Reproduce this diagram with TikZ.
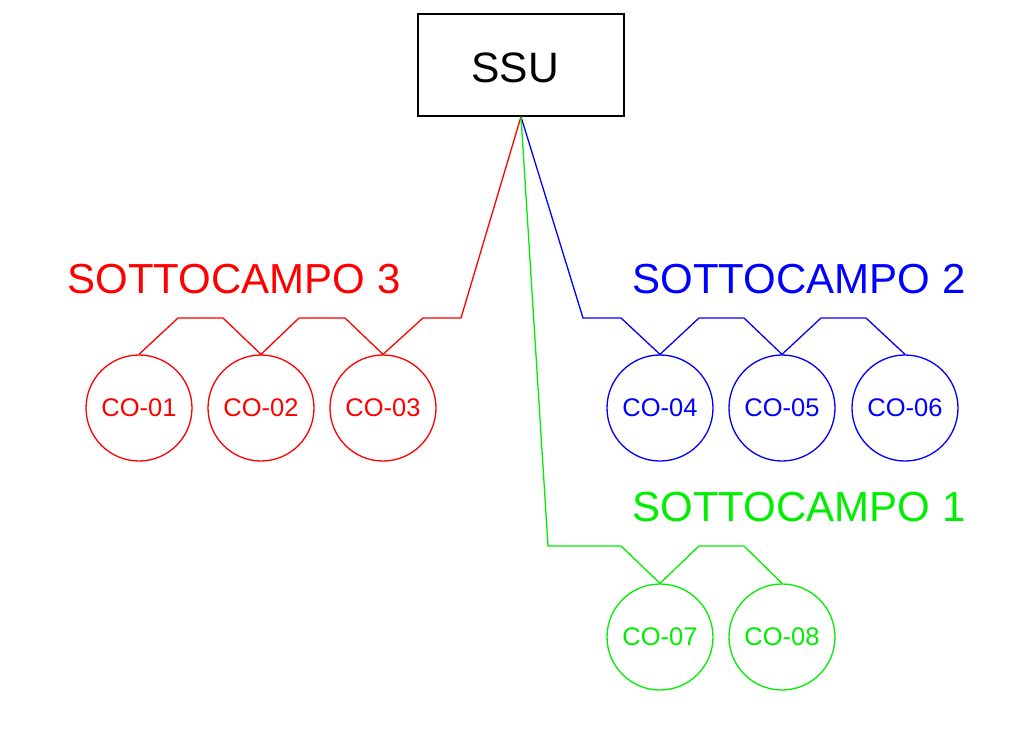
\documentclass[tikz,border=0pt]{standalone}
\usepackage{fontspec}
\setmainfont{Liberation Sans}
\definecolor{cred}{RGB}{255,0,0}
\definecolor{cblue}{RGB}{0,0,255}
\definecolor{cgreen}{RGB}{0,238,0}
\begin{document}
\begin{tikzpicture}[x=1pt,y=-1pt,
  co/.style={circle,draw,line width=1.3pt,minimum size=106pt,inner sep=0pt,font=\fontsize{25.5}{25.5}\selectfont},
  grp/.style={font=\fontsize{42}{42}\selectfont,inner sep=0pt},
  wire/.style={line width=1.3pt,line join=miter}]
\useasboundingbox (0,0) rectangle (1034,734);
\node[draw,line width=1.3pt,minimum width=206pt,minimum height=102pt,inner sep=0pt] (ssu) at (521,65) {};
\node[font=\fontsize{42.5}{42.5}\selectfont,inner sep=0pt] (ssulabel) at (515,68) {SSU};

\node[grp,text=cred] (g3) at (234,279) {SOTTOCAMPO 3};
\node[grp,text=cblue] (g2) at (799,279) {SOTTOCAMPO 2};
\node[grp,text=cgreen] (g1) at (799,507) {SOTTOCAMPO 1};

\node[co,cred] (co1) at (139,408) {CO-01};
\node[co,cred] (co2) at (261,408) {CO-02};
\node[co,cred] (co3) at (383,408) {CO-03};
\node[co,cblue] (co4) at (660,408) {CO-04};
\node[co,cblue] (co5) at (782,408) {CO-05};
\node[co,cblue] (co6) at (905,408) {CO-06};
\node[co,cgreen] (co7) at (660,637) {CO-07};
\node[co,cgreen] (co8) at (782,637) {CO-08};

\draw[wire,cred] (ssu.south) -- (461,318) -- (423,318) -- (co3.north)
  -- (345,318) -- (299,318) -- (co2.north) -- (223,318) -- (178,318) -- (co1.north);
\draw[wire,cblue] (ssu.south) -- (583,318) -- (621,318) -- (co4.north)
  -- (699,318) -- (744,318) -- (co5.north) -- (821,318) -- (866,318) -- (co6.north);
\draw[wire,cgreen] (ssu.south) -- (548,546) -- (621,546) -- (co7.north)
  -- (699,546) -- (744,546) -- (co8.north);
\end{tikzpicture}
\end{document}
